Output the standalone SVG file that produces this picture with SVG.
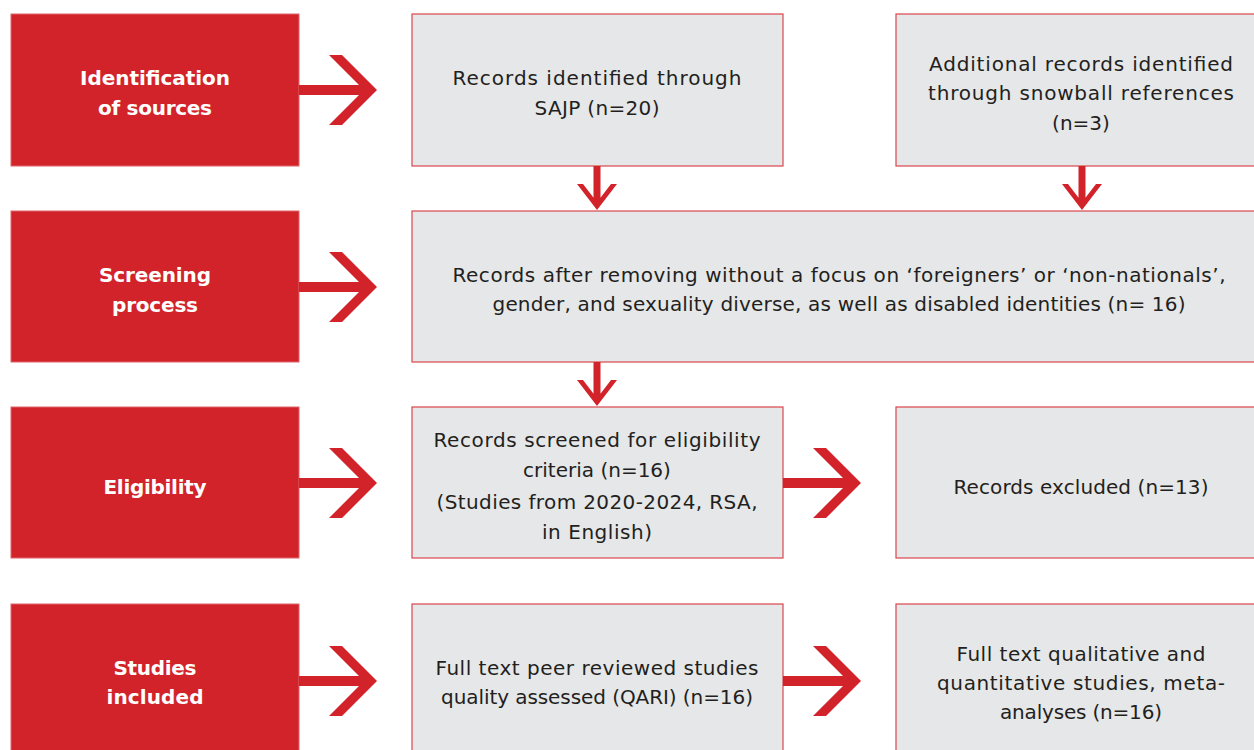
<svg xmlns="http://www.w3.org/2000/svg" width="1254" height="750" viewBox="0 0 1254 750">
<style>
.stage{fill:#d2232a;stroke:#e0666b;stroke-width:1}
.box{fill:#e6e7e8;stroke:#d9464c;stroke-width:1.2}
.lab{font-family:"DejaVu Sans","Open Sans",sans-serif;font-size:20px;font-weight:bold;fill:#ffffff;text-anchor:middle}
.txt{font-family:"DejaVu Sans","Open Sans",sans-serif;font-size:20px;fill:#231f20;text-anchor:middle}
.arr{fill:#d2232a}
</style>
<defs>
<path id="ra" d="M0,-5 H66 V5 H0 Z M30,-35 H43 L78,0 L43,35 H30 L65,0 Z"/>
<path id="da" d="M-3.5,-44 H3.5 V-6 H-3.5 Z M-20,-26 H-14 L0,-7.8 L14,-26 H20 L0,0 Z"/>
</defs>
<rect width="1254" height="750" fill="#ffffff"/>

<g id="stage-identification">
<rect class="stage" x="11" y="14" width="288" height="152"/>
<text class="lab" x="155" y="85" textLength="150" lengthAdjust="spacing">Identification</text>
<text class="lab" x="155" y="115" textLength="114" lengthAdjust="spacing">of sources</text>
</g>
<g id="stage-screening">
<rect class="stage" x="11" y="211" width="288" height="151"/>
<text class="lab" x="155" y="282" textLength="112" lengthAdjust="spacing">Screening</text>
<text class="lab" x="155" y="312" textLength="86" lengthAdjust="spacing">process</text>
</g>
<g id="stage-eligibility">
<rect class="stage" x="11" y="407" width="288" height="151"/>
<text class="lab" x="155" y="494" textLength="103" lengthAdjust="spacing">Eligibility</text>
</g>
<g id="stage-included">
<rect class="stage" x="11" y="604" width="288" height="160"/>
<text class="lab" x="155" y="675" textLength="83" lengthAdjust="spacing">Studies</text>
<text class="lab" x="155" y="704" textLength="97" lengthAdjust="spacing">included</text>
</g>

<g id="node-sajp">
<rect class="box" x="412" y="14" width="371" height="152"/>
<text class="txt" x="597" y="85" textLength="289" lengthAdjust="spacing">Records identified through</text>
<text class="txt" x="597" y="115" textLength="125" lengthAdjust="spacing">SAJP (n=20)</text>
</g>
<g id="node-snowball">
<rect class="box" x="896" y="14" width="370" height="152"/>
<text class="txt" x="1081" y="71" textLength="304" lengthAdjust="spacing">Additional records identified</text>
<text class="txt" x="1081" y="100" textLength="306" lengthAdjust="spacing">through snowball references</text>
<text class="txt" x="1081" y="130">(n=3)</text>
</g>
<g id="node-removed">
<rect class="box" x="412" y="211" width="856" height="151"/>
<text class="txt" x="839" y="282" textLength="773" lengthAdjust="spacing">Records after removing without a focus on ‘foreigners’ or ‘non-nationals’,</text>
<text class="txt" x="839" y="311" textLength="693" lengthAdjust="spacing">gender, and sexuality diverse, as well as disabled identities (n= 16)</text>
</g>
<g id="node-screened">
<rect class="box" x="412" y="407" width="371" height="151"/>
<text class="txt" x="597" y="447" textLength="327" lengthAdjust="spacing">Records screened for eligibility</text>
<text class="txt" x="597" y="477">criteria (n=16)</text>
<text class="txt" x="597" y="509" textLength="321" lengthAdjust="spacing">(Studies from 2020-2024, RSA,</text>
<text class="txt" x="597" y="539" textLength="110" lengthAdjust="spacing">in English)</text>
</g>
<g id="node-excluded">
<rect class="box" x="896" y="407" width="370" height="151"/>
<text class="txt" x="1081" y="494" textLength="255" lengthAdjust="spacing">Records excluded (n=13)</text>
</g>
<g id="node-qari">
<rect class="box" x="412" y="604" width="371" height="160"/>
<text class="txt" x="597" y="675" textLength="323" lengthAdjust="spacing">Full text peer reviewed studies</text>
<text class="txt" x="597" y="704" textLength="312" lengthAdjust="spacing">quality assessed (QARI) (n=16)</text>
</g>
<g id="node-final">
<rect class="box" x="896" y="604" width="370" height="160"/>
<text class="txt" x="1081" y="661" textLength="249" lengthAdjust="spacing">Full text qualitative and</text>
<text class="txt" x="1081" y="690" textLength="288" lengthAdjust="spacing">quantitative studies, meta-</text>
<text class="txt" x="1081" y="719" textLength="162" lengthAdjust="spacing">analyses (n=16)</text>
</g>

<g id="connectors" class="arr">
<use href="#ra" x="299" y="90"/>
<use href="#ra" x="299" y="287"/>
<use href="#ra" x="299" y="483"/>
<use href="#ra" x="299" y="681"/>
<use href="#ra" x="783" y="483"/>
<use href="#ra" x="783" y="681"/>
<use href="#da" x="597" y="210"/>
<use href="#da" x="1082" y="210"/>
<use href="#da" x="597" y="406"/>
</g>
</svg>
